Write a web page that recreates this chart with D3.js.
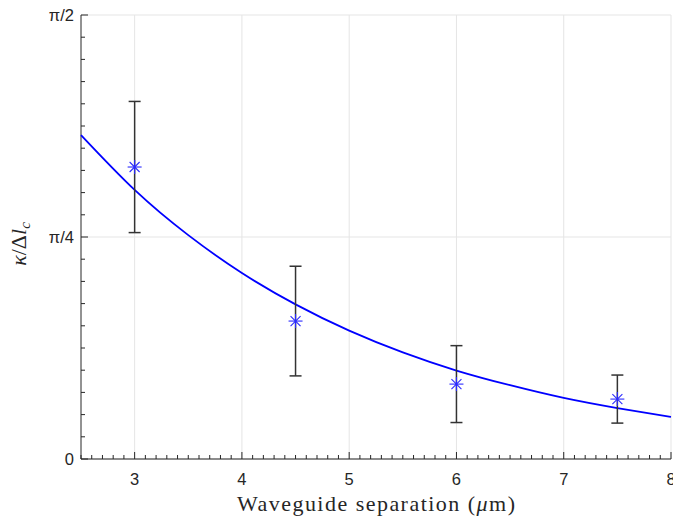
<!DOCTYPE html>
<html>
<head>
<meta charset="utf-8">
<script src="https://cdn.jsdelivr.net/npm/d3@7"></script>
<style>
  body { margin: 0; background: #fff; }
  svg { display: block; }
</style>
</head>
<body>
<div id="chart"></div>
<script>
// measured points (separation in um, value in rad)
const sepX = [3, 4.5, 6, 7.5];
const kappaY = [1.033, 0.488, 0.265, 0.212];
const errY = [0.232, 0.194, 0.136, 0.085];

// fitted curve
const fitX = [2.5, 3.0, 3.5, 4.0, 4.5, 5.0, 5.5, 6.0, 6.5, 7.0, 7.5, 8.0];
const fitY = [1.146, 0.952, 0.792, 0.658, 0.547, 0.454, 0.377, 0.313, 0.261, 0.216, 0.180, 0.149];

const xTicks = [3, 4, 5, 6, 7, 8];
const yTicks = [0, Math.PI / 4, Math.PI / 2];
const yTickLabels = ["0", "\u03c0/4", "\u03c0/2"];

const W = 673, H = 517;
const pLeft = 81, pRight = 671, pTop = 15, pBottom = 459;

const svg = d3.select("#chart").append("svg").attr("width", W).attr("height", H);

const x = d3.scaleLinear().domain([2.5, 8]).range([pLeft, pRight]);
const y = d3.scaleLinear().domain([0, Math.PI / 2]).range([pBottom, pTop]);

// grid
svg.append("g").selectAll("line").data(xTicks).join("line")
    .attr("x1", d => x(d)).attr("x2", d => x(d))
    .attr("y1", pTop).attr("y2", pBottom)
    .style("stroke", "#e5e5e5").style("stroke-width", 1);
svg.append("g").selectAll("line").data(yTicks).join("line")
    .attr("x1", pLeft).attr("x2", pRight)
    .attr("y1", d => y(d)).attr("y2", d => y(d))
    .style("stroke", "#e5e5e5").style("stroke-width", 1);

// minor ticks
const xMinor = d3.range(25, 81).map(d => d / 10);
const yMinor = d3.range(0, 21).map(d => d * Math.PI / 40);

const axisCol = "#262626";
svg.append("g").selectAll("line").data(xMinor).join("line")
    .attr("x1", d => x(d)).attr("x2", d => x(d))
    .attr("y1", pBottom).attr("y2", d => xTicks.includes(Math.round(d * 10) / 10) ? pBottom - 7 : pBottom - 4)
    .style("stroke", axisCol).style("stroke-width", 1);
svg.append("g").selectAll("line").data(yMinor).join("line")
    .attr("y1", d => y(d)).attr("y2", d => y(d))
    .attr("x1", pLeft).attr("x2", (d, i) => i % 10 === 0 ? pLeft + 7 : pLeft + 4)
    .style("stroke", axisCol).style("stroke-width", 1);

// axis lines
svg.append("line").attr("x1", pLeft).attr("x2", pLeft).attr("y1", pTop).attr("y2", pBottom)
    .style("stroke", axisCol).style("stroke-width", 1);
svg.append("line").attr("x1", pLeft).attr("x2", pRight).attr("y1", pBottom).attr("y2", pBottom)
    .style("stroke", axisCol).style("stroke-width", 1);

// tick labels
svg.append("g").selectAll("text").data(xTicks).join("text")
    .attr("x", d => x(d)).attr("y", pBottom + 26)
    .attr("text-anchor", "middle")
    .style("font-family", "Liberation Sans, Arial, sans-serif")
    .style("font-size", "16.5px").style("fill", axisCol)
    .text(d => d);
svg.append("g").selectAll("text").data(yTicks).join("text")
    .attr("x", pLeft - 7).attr("y", d => y(d) + 6)
    .attr("text-anchor", "end")
    .style("font-family", "Liberation Sans, Arial, sans-serif")
    .style("font-size", "16.5px").style("fill", axisCol)
    .text((d, i) => yTickLabels[i]);

// fit line
const line = d3.line().x(d => x(d[0])).y(d => y(d[1])).curve(d3.curveNatural);
svg.append("path")
    .datum(fitX.map((d, i) => [d, fitY[i]]))
    .attr("d", line)
    .style("fill", "none").style("stroke", "#0000ff").style("stroke-width", 1.8);

// error bars
const pts = sepX.map((d, i) => ({ x: d, y: kappaY[i], e: errY[i] }));
const eb = svg.append("g").style("stroke", "#333").style("stroke-width", 1.5);
eb.selectAll(".v").data(pts).join("line")
    .attr("x1", d => x(d.x)).attr("x2", d => x(d.x))
    .attr("y1", d => y(d.y - d.e)).attr("y2", d => y(d.y + d.e));
eb.selectAll(".t").data(pts).join("line")
    .attr("x1", d => x(d.x) - 6).attr("x2", d => x(d.x) + 6)
    .attr("y1", d => y(d.y + d.e)).attr("y2", d => y(d.y + d.e));
eb.selectAll(".b").data(pts).join("line")
    .attr("x1", d => x(d.x) - 6).attr("x2", d => x(d.x) + 6)
    .attr("y1", d => y(d.y - d.e)).attr("y2", d => y(d.y - d.e));

// asterisk markers
const r = 7, rd = 5;
const star = svg.append("g").style("stroke", "#2a2aff").style("stroke-width", 1.1);
pts.forEach(p => {
    const cx = x(p.x), cy = y(p.y);
    star.append("line").attr("x1", cx - r).attr("x2", cx + r).attr("y1", cy).attr("y2", cy);
    star.append("line").attr("x1", cx).attr("x2", cx).attr("y1", cy - r).attr("y2", cy + r);
    star.append("line").attr("x1", cx - rd).attr("x2", cx + rd).attr("y1", cy - rd).attr("y2", cy + rd);
    star.append("line").attr("x1", cx - rd).attr("x2", cx + rd).attr("y1", cy + rd).attr("y2", cy - rd);
});

// axis titles
const xl = svg.append("text")
    .attr("x", 376).attr("y", 511)
    .attr("text-anchor", "middle")
    .attr("textLength", 278).attr("lengthAdjust", "spacing")
    .style("font-family", "Liberation Serif, Times New Roman, serif")
    .style("font-size", "22px").style("fill", "#262626");
xl.append("tspan").text("Waveguide separation (");
xl.append("tspan").style("font-style", "italic").text("\u03bc");
xl.append("tspan").text("m)");

const yl = svg.append("text")
    .attr("transform", "translate(26,244) rotate(-90)")
    .attr("text-anchor", "middle")
    .style("font-family", "Liberation Serif, Times New Roman, serif")
    .style("font-size", "22px").style("fill", "#262626");
yl.append("tspan").style("font-style", "italic").text("\u03ba");
yl.append("tspan").text("/\u0394");
yl.append("tspan").style("font-style", "italic").text("l");
yl.append("tspan").style("font-style", "italic").style("font-size", "15px").attr("dy", 4).text("c");
</script>
</body>
</html>
